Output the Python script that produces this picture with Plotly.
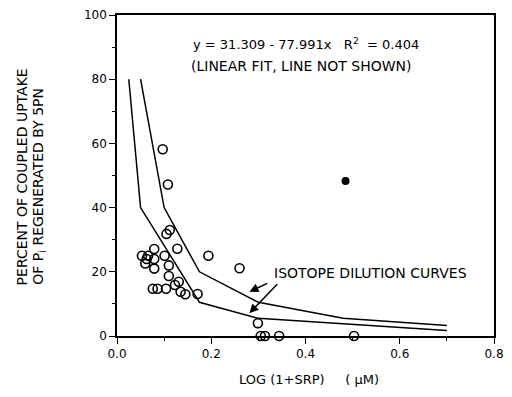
import plotly.graph_objects as go

# Open-circle observations
obs_x = [0.097, 0.108, 0.105, 0.112, 0.128, 0.194, 0.260, 0.053, 0.063, 0.060, 0.066,
         0.079, 0.079, 0.079, 0.101, 0.110, 0.110, 0.076, 0.086, 0.104, 0.123, 0.131,
         0.135, 0.145, 0.171, 0.299, 0.305, 0.314, 0.344, 0.503]
obs_y = [58.2, 47.2, 31.8, 33.0, 27.2, 25.0, 21.1, 25.0, 24.0, 22.6, 25.0,
         27.1, 24.0, 21.0, 25.0, 22.0, 18.7, 14.7, 14.7, 14.7, 15.9, 16.9,
         13.8, 13.0, 13.1, 4.0, 0.0, 0.0, 0.0, 0.0]

# Filled point
filled_x = [0.485]
filled_y = [48.3]

# Isotope dilution curves
upper_x = [0.05, 0.10, 0.175, 0.30, 0.48, 0.70]
upper_y = [80.0, 40.0, 20.0, 10.5, 5.5, 3.3]
lower_x = [0.025, 0.05, 0.175, 0.30, 0.70]
lower_y = [80.0, 40.0, 10.5, 5.5, 1.7]

x_ticks = [0, 0.2, 0.4, 0.6, 0.8]
x_ticktext = ["0.0", "0.2", "0.4", "0.6", "0.8"]
y_ticks = [0, 20, 40, 60, 80, 100]

FONT = "DejaVu Sans, Arial, sans-serif"

fig = go.Figure()
for cx, cy in [(upper_x, upper_y), (lower_x, lower_y)]:
    fig.add_trace(go.Scatter(x=cx, y=cy, mode="lines",
                             line=dict(color="black", width=1.5),
                             showlegend=False, hoverinfo="skip"))
fig.add_trace(go.Scatter(x=obs_x, y=obs_y, mode="markers",
                         marker=dict(symbol="circle-open", size=9, color="black",
                                     line=dict(width=1.6, color="black")),
                         showlegend=False, cliponaxis=False))
fig.add_trace(go.Scatter(x=filled_x, y=filled_y, mode="markers",
                         marker=dict(symbol="circle", size=8, color="black"),
                         showlegend=False))

# page body has an 8px margin, so the figure is sized to fit inside the window
fig.update_layout(
    width=496, height=381,
    margin=dict(l=109, r=10, t=7, b=53, autoexpand=False),
    paper_bgcolor="white", plot_bgcolor="white",
    font=dict(family=FONT, size=12, color="black"),
)
fig.update_xaxes(range=[0, 0.8], tickvals=x_ticks, ticktext=x_ticktext,
                 ticks="outside", ticklen=6, tickwidth=1.2, tickcolor="black",
                 minor=dict(tickvals=[0.1, 0.3, 0.5, 0.7], ticks="outside",
                            ticklen=3, tickcolor="black"),
                 showline=True, linecolor="black", linewidth=1.5, mirror=True,
                 showgrid=False, zeroline=False, automargin=False,
                 ticklabeloverflow="allow",
                 tickfont=dict(family=FONT, size=12))
fig.update_yaxes(range=[0, 100], tickvals=y_ticks,
                 ticks="outside", ticklen=6, tickwidth=1.2, tickcolor="black",
                 minor=dict(tickvals=[10, 30, 50, 70, 90], ticks="outside",
                            ticklen=3, tickcolor="black"),
                 showline=True, linecolor="black", linewidth=1.5, mirror=True,
                 showgrid=False, zeroline=False, automargin=False,
                 ticklabeloverflow="allow",
                 tickfont=dict(family=FONT, size=12))

fig.add_annotation(text="y = 31.309 - 77.991x   R<sup>2</sup>  = 0.404",
                   xref="paper", yref="paper", x=0.5, y=0.91,
                   xanchor="center", yanchor="middle",
                   showarrow=False, font=dict(family=FONT, size=13))
fig.add_annotation(text="(LINEAR FIT, LINE NOT SHOWN)",
                   xref="paper", yref="paper", x=0.489, y=0.841,
                   xanchor="center", yanchor="middle",
                   showarrow=False, font=dict(family=FONT, size=14))
fig.add_annotation(text="ISOTOPE DILUTION CURVES",
                   xref="x", yref="y", x=0.329, y=19.6,
                   xanchor="left", yanchor="middle",
                   showarrow=False, font=dict(family=FONT, size=14))
fig.add_annotation(x=0.281, y=13.8, ax=0.322, ay=16.6, xref="x", yref="y",
                   axref="x", ayref="y", text="", showarrow=True,
                   arrowhead=2, arrowsize=1.2, arrowwidth=1.5, arrowcolor="black")
fig.add_annotation(x=0.281, y=7.1, ax=0.343, ay=16.6, xref="x", yref="y",
                   axref="x", ayref="y", text="", showarrow=True,
                   arrowhead=2, arrowsize=1.2, arrowwidth=1.5, arrowcolor="black")

fig.add_annotation(text="PERCENT OF COUPLED UPTAKE",
                   xref="paper", yref="paper", x=-0.252, y=0.153,
                   xanchor="center", yanchor="bottom", textangle=-90,
                   showarrow=False, font=dict(family=FONT, size=14))
fig.add_annotation(text="OF P<sub>i</sub> REGENERATED BY 5PN",
                   xref="paper", yref="paper", x=-0.206, y=0.153,
                   xanchor="center", yanchor="bottom", textangle=-90,
                   showarrow=False, font=dict(family=FONT, size=14))
fig.add_annotation(text="LOG (1+SRP)     ( µM)",
                   xref="paper", yref="paper", x=0.508, y=-0.165,
                   xanchor="center", yanchor="bottom",
                   showarrow=False, font=dict(family=FONT, size=13))

fig.write_html("out.html")
